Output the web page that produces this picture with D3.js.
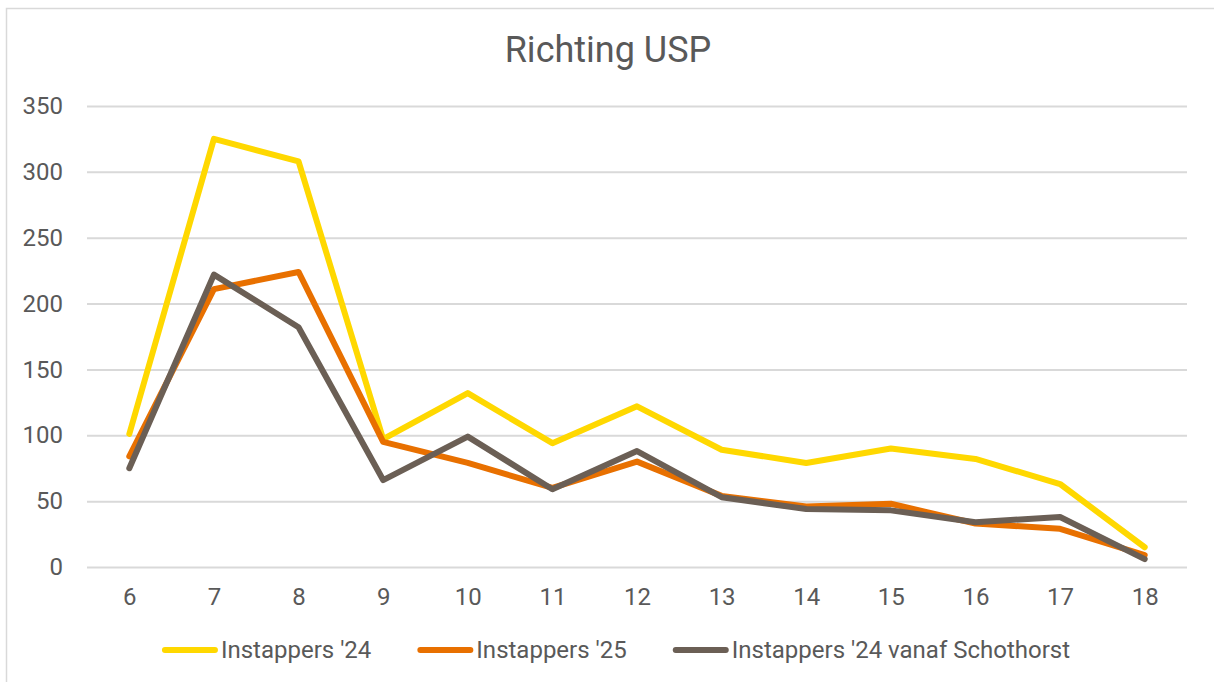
<!DOCTYPE html>
<html>
<head>
<meta charset="utf-8">
<script src="https://cdn.jsdelivr.net/npm/d3@7"></script>
<style>
  body { margin: 0; background: #fff; }
  text { font-family: Roboto, "Open Sans", sans-serif; fill: #595959; }
</style>
</head>
<body>
<div id="wrapper"></div>
<script>
const hours = [6, 7, 8, 9, 10, 11, 12, 13, 14, 15, 16, 17, 18];
const instappers24 = [101, 325, 308, 97, 132, 94, 122, 89, 79, 90, 82, 63, 15];
const instappers25 = [84, 211, 224, 95, 79, 60, 80, 54, 46, 48, 33, 29, 9];
const instappers24Schothorst = [75, 222, 182, 66, 99, 59, 88, 53, 44, 43, 34, 38, 6];
const yTicks = [0, 50, 100, 150, 200, 250, 300, 350];
const seriesNames = ["Instappers '24", "Instappers '25", "Instappers '24 vanaf Schothorst"];
const seriesColors = ["#FFD800", "#E87000", "#6B5F55"];

function drawLineChart() {
    const width = 1214;
    const height = 682;
    const margin = { top: 106, right: 27, bottom: 115, left: 87 };
    const boundedWidth = width - margin.left - margin.right;
    const boundedHeight = height - margin.top - margin.bottom;

    const series = [instappers24, instappers25, instappers24Schothorst];

    const svg = d3.select("#wrapper")
        .append("svg")
        .attr("width", width)
        .attr("height", height);

    // chart border (only top and left edges visible)
    svg.append("rect")
        .attr("x", 6.5)
        .attr("y", 8.5)
        .attr("width", width + 20)
        .attr("height", height + 20)
        .attr("fill", "none")
        .attr("stroke", "#d9d9d9")
        .attr("stroke-width", 1.5);

    svg.append("text")
        .attr("x", 608)
        .attr("y", 62)
        .attr("text-anchor", "middle")
        .style("font-size", "36px")
        .text("Richting USP");

    const bounds = svg.append("g")
        .attr("transform", `translate(${margin.left},${margin.top})`);

    const xScale = d3.scalePoint()
        .domain(hours)
        .range([0, boundedWidth])
        .padding(0.5);

    const yScale = d3.scaleLinear()
        .domain([0, 350])
        .range([boundedHeight, 0]);

    const yAxis = bounds.append("g")
        .call(d3.axisLeft(yScale).tickValues(yTicks).tickSize(-boundedWidth).tickPadding(24));
    yAxis.select(".domain").remove();
    yAxis.selectAll("line").attr("stroke", "#d9d9d9").attr("stroke-width", 2);
    yAxis.selectAll("text").style("font-size", "24px").attr("fill", "#595959");

    const xAxis = bounds.append("g")
        .attr("transform", `translate(0,${boundedHeight})`)
        .call(d3.axisBottom(xScale).tickSize(0).tickPadding(21));
    xAxis.select(".domain").remove();
    xAxis.selectAll("text").style("font-size", "24px").attr("fill", "#595959");

    const lineGenerator = d3.line()
        .x((d, i) => xScale(hours[i]))
        .y(d => yScale(d));

    series.forEach((values, i) => {
        bounds.append("path")
            .attr("d", lineGenerator(values))
            .attr("fill", "none")
            .attr("stroke", seriesColors[i])
            .attr("stroke-width", 6)
            .attr("stroke-linejoin", "round")
            .attr("stroke-linecap", "round");
    });

    // legend, centred below the plot
    const legend = svg.append("g");
    let x = 0;
    seriesNames.forEach((name, i) => {
        const item = legend.append("g").attr("transform", `translate(${x},0)`);
        item.append("line")
            .attr("x1", 3).attr("x2", 53)
            .attr("y1", 0).attr("y2", 0)
            .attr("stroke", seriesColors[i])
            .attr("stroke-width", 6)
            .attr("stroke-linecap", "round");
        const label = item.append("text")
            .attr("x", 59)
            .attr("dy", "0.35em")
            .style("font-size", "24px")
            .text(name);
        x += 59 + label.node().getComputedTextLength() + 46;
    });
    const legendWidth = x - 46;
    legend.attr("transform", `translate(${(width - legendWidth) / 2 + 9},650)`);
}

drawLineChart();
</script>
</body>
</html>
